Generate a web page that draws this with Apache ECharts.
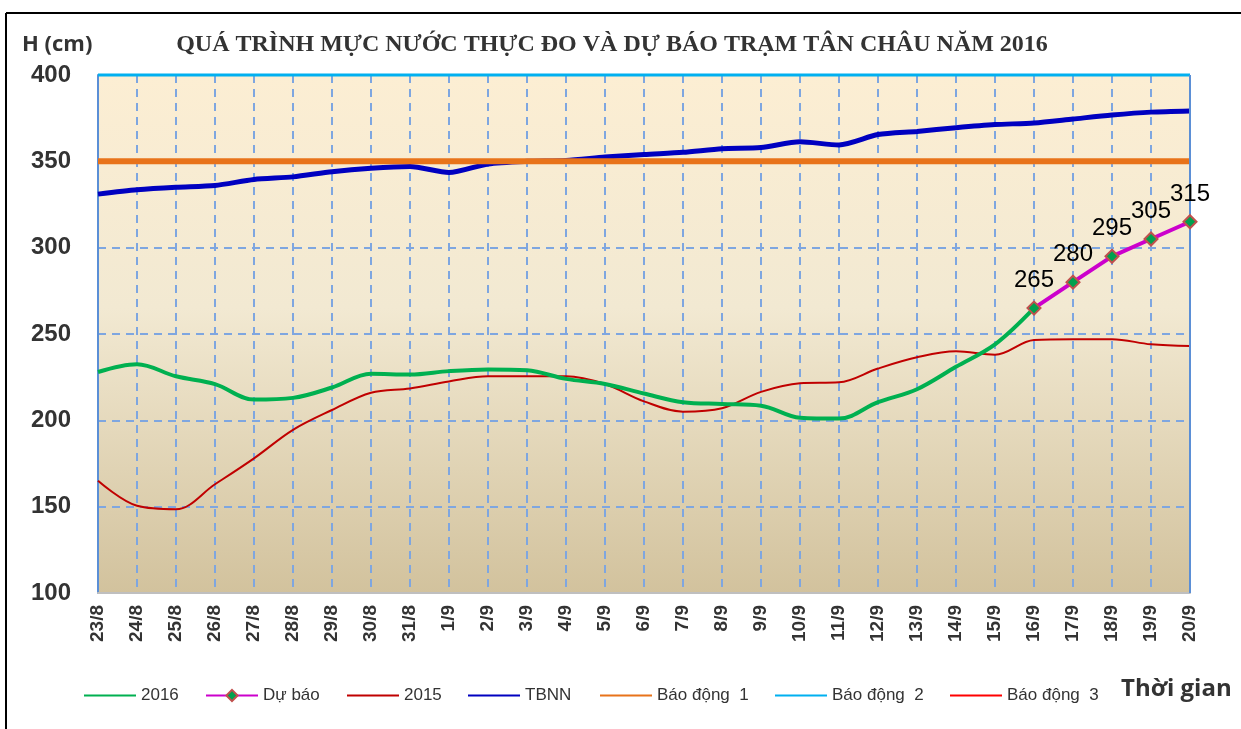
<!DOCTYPE html>
<html>
<head>
<meta charset="utf-8">
<script src="https://cdn.jsdelivr.net/npm/echarts@6/dist/echarts.min.js"></script>
<style>
  html, body { margin: 0; padding: 0; background: #fff; }
  #chart { width: 1241px; height: 729px; }
</style>
</head>
<body>
<div id="chart"></div>
<script>
// ngày
var dates = ['23/8', '24/8', '25/8', '26/8', '27/8', '28/8', '29/8', '30/8', '31/8',
    '1/9', '2/9', '3/9', '4/9', '5/9', '6/9', '7/9', '8/9', '9/9', '10/9',
    '11/9', '12/9', '13/9', '14/9', '15/9', '16/9', '17/9', '18/9', '19/9', '20/9'];

// mực nước thực đo 2016
var h2016 = [228, 232.5, 225.5, 221, 212, 213, 219, 227, 226.5,
    228.5, 229.5, 229, 224, 221, 215.5, 210.5, 209.5, 208.5, 201.5,
    201, 210.5, 218, 231, 244, 265, null, null, null, null];

// dự báo
var duBao = [null, null, null, null, null, null, null, null, null,
    null, null, null, null, null, null, null, null, null, null,
    null, null, null, null, null, 265, 280, 295, 305, 315];

// mực nước 2015
var h2015 = [165, 150.5, 148.5, 163, 178, 194.5, 206, 216, 218.5,
    222.5, 225.5, 225.5, 225.5, 221, 211, 205, 207, 216.5, 221.5,
    222, 230, 236.5, 240, 238, 246.5, 247, 247, 244, 243];

// trung bình nhiều năm
var tbnn = [331, 333.5, 335, 336, 339.5, 341, 344, 346, 347,
    343.5, 348.5, 350, 350.5, 352.5, 354, 355.2, 357.3, 358, 361.3,
    359.5, 365.5, 367.3, 369.5, 371.3, 372.2, 374.5, 376.8, 378.5, 379.2];

// mức báo động 1, 2, 3
var baoDong = [350, 400, 450];

var yTicks = [100, 150, 200, 250, 300, 350, 400];

function levelLine(v) {
    return [[dates[0], v], [dates[dates.length - 1], v]];
}

var myChart = echarts.init(document.getElementById('chart'));

var legendNames = ['2016', 'Dự báo', '2015', 'TBNN', 'Báo động  1', 'Báo động  2', 'Báo động  3'];
var legendLeft = [79, 200, 342, 463, 595, 770, 945];
var legends = [];
for (var i = 0; i < legendNames.length; i++) {
    var lg = {
        data: [legendNames[i]],
        left: legendLeft[i],
        top: 682,
        itemWidth: 52,
        itemHeight: 14,
        itemGap: 0,
        selectedMode: false,
        textStyle: {fontFamily: 'Arial', fontSize: 17, color: '#333'}
    };
    if (legendNames[i] !== 'Dự báo') {
        lg.icon = 'rect';
        lg.itemHeight = 2;
    }
    legends.push(lg);
}

var option = {
    backgroundColor: '#fff',
    animation: false,
    title: {
        text: 'QUÁ TRÌNH MỰC NƯỚC THỰC ĐO VÀ DỰ BÁO TRẠM TÂN CHÂU NĂM 2016',
        left: 607,
        textAlign: 'center',
        top: 28,
        textStyle: {fontFamily: 'Liberation Serif', fontWeight: 'bold', fontSize: 24, color: '#333'}
    },
    legend: legends,
    grid: {
        left: 98, right: 51, top: 75, bottom: 136,
        show: true,
        borderWidth: 0,
        backgroundColor: {
            type: 'linear', x: 0, y: 0, x2: 0, y2: 1,
            colorStops: [
                {offset: 0, color: '#FCEED3'},
                {offset: 0.45, color: '#F2E9D2'},
                {offset: 1, color: '#D2C29D'}
            ]
        }
    },
    xAxis: {
        type: 'category',
        data: dates,
        boundaryGap: false,
        axisLine: {lineStyle: {color: '#BFBFBF', width: 2}},
        axisTick: {show: false},
        axisLabel: {
            interval: 0, rotate: 90, margin: 12,
            fontFamily: 'Arial', fontWeight: 'bold', fontSize: 19, color: '#333'
        },
        splitLine: {show: true, interval: 0, lineStyle: {color: '#7EA6E0', width: 2, type: [8, 6]}}
    },
    yAxis: {
        type: 'value',
        min: yTicks[0], max: yTicks[yTicks.length - 1], interval: 50,
        axisLine: {show: true, lineStyle: {color: '#5B8FD6', width: 2}},
        axisTick: {show: false},
        axisLabel: {margin: 27, fontFamily: 'Arial', fontWeight: 'bold', fontSize: 24, color: '#333'},
        splitLine: {lineStyle: {color: '#7EA6E0', width: 2, type: [8, 6]}}
    },
    graphic: [
        {type: 'line', shape: {x1: 6, y1: 13, x2: 1241, y2: 13}, style: {stroke: '#000', lineWidth: 2}},
        {type: 'line', shape: {x1: 6, y1: 13, x2: 6, y2: 729}, style: {stroke: '#000', lineWidth: 2}},
        {type: 'line', shape: {x1: 1190, y1: 75, x2: 1190, y2: 593}, style: {stroke: '#5B8FD6', lineWidth: 2}, z: 5},
        {type: 'text', left: 22, top: 34, style: {text: 'H (cm)', font: 'bold 22px "Open Sans"', fill: '#333'}},
        {type: 'text', left: 1121, top: 677, style: {text: 'Thời gian', font: 'bold 24px "Open Sans"', fill: '#333'}}
    ],
    series: [
        {
            name: '2016', type: 'line', data: h2016, smooth: 0.35, showSymbol: false, symbol: 'none',
            lineStyle: {color: '#00B050', width: 4}, itemStyle: {color: '#00B050'}, z: 4
        },
        {
            name: 'Dự báo', type: 'line', data: duBao, symbol: 'diamond', symbolSize: 13,
            lineStyle: {color: '#CC00CC', width: 4},
            itemStyle: {color: '#00A04E', borderColor: '#C0504D', borderWidth: 2},
            label: {show: true, position: 'top', distance: 8,
                fontFamily: 'Arial', fontSize: 24, color: '#000'},
            z: 6
        },
        {
            name: '2015', type: 'line', data: h2015, smooth: 0.35, showSymbol: false, symbol: 'none',
            lineStyle: {color: '#C00000', width: 2}, itemStyle: {color: '#C00000'}, z: 3
        },
        {
            name: 'TBNN', type: 'line', data: tbnn, smooth: 0.25, showSymbol: false, symbol: 'none',
            lineStyle: {color: '#0000C0', width: 5}, itemStyle: {color: '#0000C0'}, z: 3
        },
        {
            name: 'Báo động  1', type: 'line', data: levelLine(baoDong[0]), showSymbol: false, symbol: 'none',
            lineStyle: {color: '#E8731A', width: 6}, itemStyle: {color: '#E8731A'}, z: 4
        },
        {
            name: 'Báo động  2', type: 'line', data: levelLine(baoDong[1]), showSymbol: false, symbol: 'none',
            lineStyle: {color: '#00B0F0', width: 3}, itemStyle: {color: '#00B0F0'}, z: 4, clip: false
        },
        {
            name: 'Báo động  3', type: 'line', data: levelLine(baoDong[2]), showSymbol: false, symbol: 'none',
            lineStyle: {color: '#FF0000', width: 2}, itemStyle: {color: '#FF0000'}, z: 4
        }
    ]
};

myChart.setOption(option);
</script>
</body>
</html>
